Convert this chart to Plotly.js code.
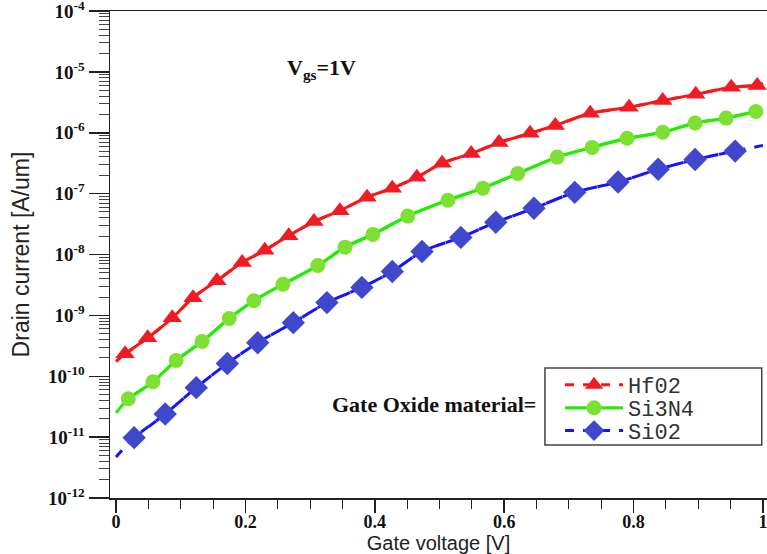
<!DOCTYPE html>
<html><head><meta charset="utf-8">
<script src="https://cdn.plot.ly/plotly-3.0.1.min.js"></script>
<style>html,body{margin:0;padding:0;background:#fff}#chart{width:767px;height:554px}</style>
</head><body><div id="chart"></div>
<script>
// Gate voltage (V) at the marker positions and drain current (A/um)
const vgHfO2 = [0.014,0.049,0.087,0.119,0.156,0.195,0.230,0.267,0.306,0.346,0.388,0.427,0.465,0.504,0.549,0.592,0.640,0.679,0.733,0.793,0.845,0.896,0.951,0.991];
const idHfO2 = [2.34e-10,4.27e-10,9.1e-10,1.95e-9,3.72e-9,7.4e-9,1.17e-8,2.04e-8,3.47e-8,5.25e-8,8.7e-8,1.23e-7,1.86e-7,3.16e-7,4.57e-7,6.9e-7,9.8e-7,1.32e-6,2.09e-6,2.63e-6,3.39e-6,4.27e-6,5.6e-6,6.0e-6];
const vgSi3N4 = [0.019,0.057,0.093,0.133,0.175,0.213,0.258,0.312,0.354,0.397,0.451,0.513,0.567,0.621,0.682,0.736,0.790,0.845,0.895,0.943,0.989];
const idSi3N4 = [4.27e-11,8.1e-11,1.82e-10,3.72e-10,8.9e-10,1.74e-9,3.24e-9,6.6e-9,1.32e-8,2.14e-8,4.27e-8,7.8e-8,1.23e-7,2.14e-7,3.98e-7,5.75e-7,8.1e-7,1.02e-6,1.45e-6,1.74e-6,2.24e-6];
const vgSiO2 = [0.028,0.076,0.124,0.172,0.219,0.274,0.326,0.380,0.427,0.473,0.533,0.587,0.646,0.709,0.776,0.838,0.895,0.957];
const idSiO2 = [9.8e-12,2.4e-11,6.5e-11,1.62e-10,3.55e-10,7.6e-10,1.62e-9,2.88e-9,5.25e-9,1.12e-8,1.91e-8,3.39e-8,5.75e-8,1.05e-7,1.55e-7,2.51e-7,3.63e-7,5.0e-7];
// curve end points at Vg = 0 and Vg = 1
const vgEnds = [0, 1];
const idHfO2Ends = [1.74e-10, 6.5e-6];
const idSi3N4Ends = [2.5e-11, 2.34e-6];
const idSiO2Ends = [4.7e-12, 6.2e-7];
const names = ['Hf02', 'Si3N4', 'Si02'];
const yTickVals = [1e-12,1e-11,1e-10,1e-9,1e-8,1e-7,1e-6,1e-5,1e-4];
const yTickText = ['10<sup>-12</sup>','10<sup>-11</sup>','10<sup>-10</sup>','10<sup>-9</sup>','10<sup>-8</sup>','10<sup>-7</sup>','10<sup>-6</sup>','10<sup>-5</sup>','10<sup>-4</sup>'];
const xTickVals = [0, 0.2, 0.4, 0.6, 0.8, 1];
const xTickText = ['0', '0.2', '0.4', '0.6', '0.8', '1'];

const series = [
  {vg: vgHfO2, id: idHfO2, ends: idHfO2Ends, name: names[0], lc: '#ff1414', mc: '#ee1c25', sym: 'triangle-up', size: 17, curveDash: 'solid', dash: 'dash', legend: 'legend', ly: 0.232},
  {vg: vgSi3N4, id: idSi3N4, ends: idSi3N4Ends, name: names[1], lc: '#22ee00', mc: '#7ee032', sym: 'circle', size: 15, curveDash: 'solid', dash: 'solid', legend: 'legend2', ly: 0.185},
  {vg: vgSiO2, id: idSiO2, ends: idSiO2Ends, name: names[2], lc: '#1414ff', mc: '#3f48cc', sym: 'diamond', size: 18, curveDash: 'dash', dash: 'dash', legend: 'legend3', ly: 0.138}
];
const traces = [];
series.forEach(s => {
  traces.push({
    x: [vgEnds[0]].concat(s.vg, [vgEnds[1]]),
    y: [s.ends[0]].concat(s.id, [s.ends[1]]),
    mode: 'lines', type: 'scatter', showlegend: false, hoverinfo: 'skip',
    line: {color: s.lc, width: 3, dash: s.curveDash, shape: 'spline', smoothing: 0.8}
  });
});
series.forEach(s => {
  traces.push({
    x: s.vg, y: s.id, name: s.name, mode: 'lines+markers', type: 'scatter', legend: s.legend,
    line: {color: s.lc, width: 3, dash: s.dash, shape: 'spline', smoothing: 0.8},
    marker: {symbol: s.sym, size: s.size, color: s.mc, line: {width: 0}}
  });
});

const serif = 'Liberation Serif, Times New Roman, serif';
const sans = 'Liberation Sans, Arial, sans-serif';
const legendStyle = (y) => ({x: 0.685, y: y, xanchor: 'left', yanchor: 'middle',
    bgcolor: 'rgba(0,0,0,0)', borderwidth: 0,
    font: {family: 'Liberation Mono, Courier New, monospace', size: 22, color: '#333'},
    itemwidth: 58});
const layout = {
  width: 767, height: 554,
  margin: {l: 110, r: 0, t: 11, b: 56, pad: 0},
  paper_bgcolor: '#fff', plot_bgcolor: '#fff',
  showlegend: true,
  legend: legendStyle(series[0].ly),
  legend2: legendStyle(series[1].ly),
  legend3: legendStyle(series[2].ly),
  shapes: [
    {type: 'rect', xref: 'paper', yref: 'paper', x0: 0.662, x1: 0.992, y0: 0.109, y1: 0.267,
     line: {color: '#444', width: 1.5}, fillcolor: '#fff', layer: 'below'}
  ],
  xaxis: {range: [-0.0093, 1.0062], tickvals: xTickVals, ticktext: xTickText,
    ticks: 'outside', ticklen: 13, tickwidth: 1.5, tickcolor: '#222',
    showline: true, linecolor: '#222', linewidth: 1.5, mirror: true,
    showgrid: false, zeroline: false, ticklabeloverflow: 'allow', ticklabelstandoff: -6,
    minor: {dtick: 0.05, tick0: 0, ticks: 'outside', ticklen: 9, tickwidth: 1, tickcolor: '#222', showgrid: false},
    tickfont: {family: serif, size: 18, color: '#111', weight: 'bold'},
    title: {text: 'Gate voltage [V]', font: {family: sans, size: 20, color: '#222'}, standoff: 0}},
  yaxis: {type: 'log', range: [-12, -4], tickvals: yTickVals, ticktext: yTickText,
    ticks: 'outside', ticklen: 20, tickwidth: 1.5, tickcolor: '#222',
    showline: true, linecolor: '#222', linewidth: 1.5,
    showgrid: false, zeroline: false, ticklabeloverflow: 'allow',
    minor: {dtick: 'D1', ticks: 'outside', ticklen: 10, tickwidth: 1, tickcolor: '#444', showgrid: false},
    tickfont: {family: serif, size: 19, color: '#111', weight: 'bold'},
    title: {text: 'Drain current [A/um]', font: {family: sans, size: 23, color: '#222'}, standoff: 12}},
  annotations: [
    {xref: 'paper', yref: 'paper', x: 0.266, y: 0.913, showarrow: false,
     text: '<b>V<sub>gs</sub>=1V</b>', font: {family: serif, size: 22, color: '#111'}},
    {xref: 'paper', yref: 'paper', x: 0.652, y: 0.162, xanchor: 'right', showarrow: false,
     text: '<b>Gate Oxide material=</b>', font: {family: serif, size: 22, color: '#111'}}
  ]
};
Plotly.newPlot('chart', traces, layout, {displayModeBar: false, staticPlot: true});
</script>
</body></html>
